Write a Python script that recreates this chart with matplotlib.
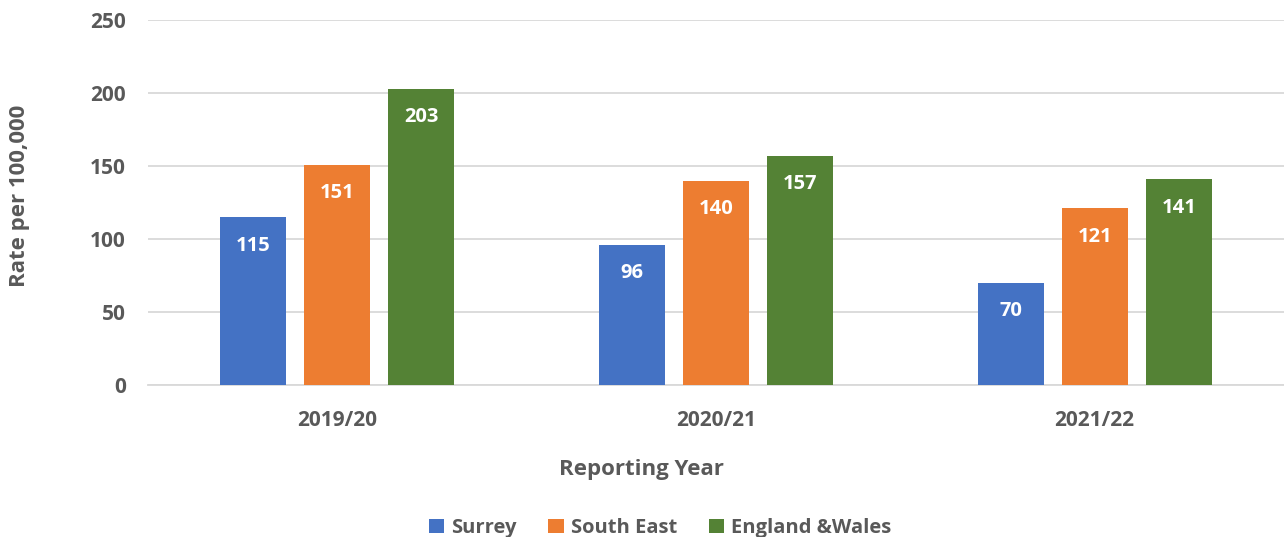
import matplotlib
matplotlib.use("Agg")
import matplotlib.pyplot as plt
import numpy as np

years = ["2019/20", "2020/21", "2021/22"]
series_names = ["Surrey", "South East", "England &Wales"]
surrey = [115, 96, 70]
south_east = [151, 140, 121]
england_wales = [203, 157, 141]
colors = ["#4472C4", "#ED7D31", "#548235"]
yticks = [0, 50, 100, 150, 200, 250]

plt.rcParams['font.family'] = ['Open Sans', 'DejaVu Sans']
plt.rcParams['font.weight'] = 'bold'
TXT = "#595959"

fig = plt.figure(figsize=(12.84, 5.37), dpi=100)
ax = fig.add_axes([148/1284, (537-385)/537, (1284-148)/1284, (385-20)/537])

x = np.arange(len(years))
width = 0.174
offsets = [-0.222, 0.0, 0.222]
for vals, name, col, off in zip([surrey, south_east, england_wales], series_names, colors, offsets):
    bars = ax.bar(x + off, vals, width, color=col, label=name, zorder=3)
    for b, v in zip(bars, vals):
        ax.annotate(str(v), (b.get_x() + b.get_width()/2, v), xytext=(0, -20.5),
                    textcoords='offset points', ha='center', va='center',
                    color='white', fontsize=14.5, fontweight='bold', zorder=4)

ax.set_xlim(-0.5, 2.5)
ax.set_ylim(0, 250)
ax.set_yticks(yticks)
ax.set_xticks(x)
ax.set_xticklabels(years)
ax.yaxis.grid(True, color="#D9D9D9", linewidth=1.3, zorder=0)
ax.set_axisbelow(True)
for s in ["top", "right", "left"]:
    ax.spines[s].set_visible(False)
ax.spines["bottom"].set_color("#D9D9D9")
ax.spines["bottom"].set_linewidth(1.3)
ax.tick_params(axis='both', length=0, colors=TXT, labelsize=15)
ax.tick_params(axis='y', pad=16)
ax.tick_params(axis='x', pad=18)
for lab in ax.get_xticklabels() + ax.get_yticklabels():
    lab.set_fontweight('bold')

fig.text(20/1284, 1 - 196/537, "Rate per 100,000", rotation=90, ha='center', va='center',
         color=TXT, fontsize=16, fontweight='bold')
fig.text(641/1284, 1 - 470/537, "Reporting Year", ha='center', va='center',
         color=TXT, fontsize=16, fontweight='bold')

handles, labels = ax.get_legend_handles_labels()
leg = fig.legend(handles, labels, loc='center', bbox_to_anchor=(660/1284, 1 - 528/537),
                 ncol=3, frameon=False, handlelength=0.75, handleheight=0.75,
                 handletextpad=0.35, columnspacing=1.6,
                 prop={'size': 14.5, 'weight': 'bold'})
for t in leg.get_texts():
    t.set_color(TXT)

fig.savefig("out.png", dpi=100)
